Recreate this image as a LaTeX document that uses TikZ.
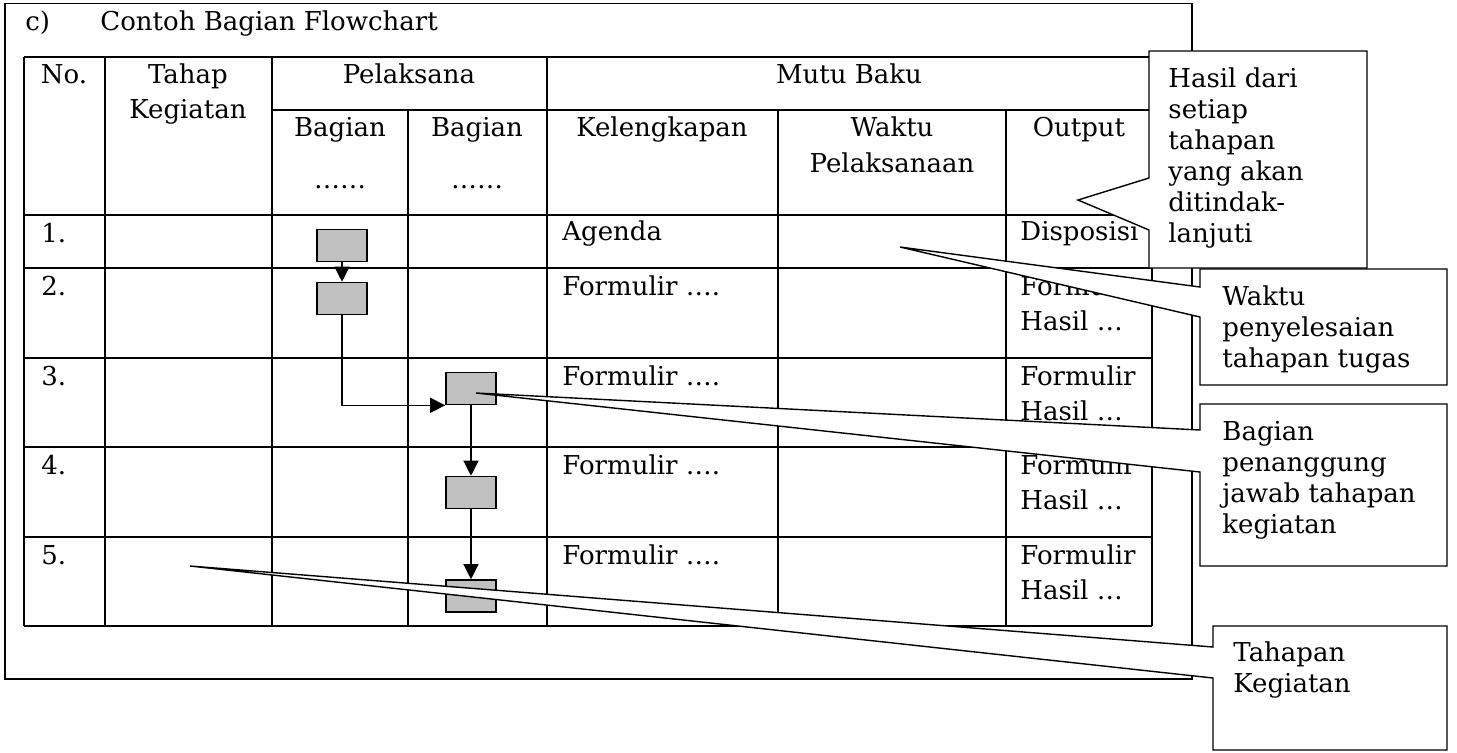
\documentclass[tikz,border=0pt]{standalone}
\usepackage{fontspec}
\setmainfont{DejaVu Serif}
\usetikzlibrary{arrows.meta}
\definecolor{boxgray}{RGB}{192,192,192}
\newcommand\tabfont{\fontsize{13}{17.5}\selectfont}
\newcommand\notefont{\fontsize{13}{15.5}\selectfont}

\begin{document}
\begin{tikzpicture}
	[x=0.5pt, y=-0.5pt, >={Triangle[length=7.5pt,width=7.5pt]},
	every node/.style={font=\tabfont, inner sep=0pt},
	txt/.style={anchor=base west},
	head/.style={anchor=base},
	grid/.style={line width=0.6pt},
	flow/.style={draw, line width=0.8pt, fill=boxgray, minimum width=25pt, minimum height=16pt},
	link/.style={->, line width=0.65pt},
	callout/.style={draw, fill=white, line width=0.7pt, line join=miter},
	note/.style={anchor=base west, align=left, font=\notefont}]
	\useasboundingbox (0,0) rectangle (1457,752);
	\draw[grid] (5,3.5) rectangle (1192,679);
	\node[txt] (lbl) at (25,30) {c)};
	\node[txt] (title) at (100,30) {Contoh Bagian Flowchart};

	\foreach \y in {57,215,268,358,447,537,626} \draw[grid] (24,\y) -- (1152,\y);
	\draw[grid] (272,110) -- (1152,110);
	\foreach \x in {24,105,272,547,1152} \draw[grid] (\x,57) -- (\x,626);
	\foreach \x in {408,778,1006} \draw[grid] (\x,110) -- (\x,626);

	\node[head] (no) at (64,83) {No.};
	\node[head] (tahap) at (188,83) {Tahap};
	\node[head] (tahap2) at (188,118) {Kegiatan};
	\node[head] (pelaksana) at (409,83) {Pelaksana};
	\node[head] (mutu) at (849,83) {Mutu Baku};
	\node[head] (bagA) at (340,136) {Bagian};
	\node[head] (bagAdots) at (340,188) {\ldots\ldots};
	\node[head] (bagB) at (477,136) {Bagian};
	\node[head] (bagBdots) at (477,188) {\ldots\ldots};
	\node[head] (lengkap) at (662,136) {Kelengkapan};
	\node[head] (waktu) at (892,136) {Waktu};
	\node[head] (waktu2) at (892,172) {Pelaksanaan};
	\node[head] (output) at (1079,136) {Output};

	\foreach \n/\y in {1/242,2/295,3/385,4/474,5/564} \node[txt] (no\n) at (41,\y) {\n.};
	\node[txt] (kl1) at (562,240) {Agenda};
	\node[txt] (out1) at (1020,240) {Disposisi};
	\foreach \n/\y in {2/295,3/385,4/474,5/564} {
		\node[txt] (kl\n) at (562,\y) {Formulir \ldots.};
		\node[txt] (out\n) at (1020,\y) {Formulir};
		\node[txt] (hs\n) at (1020,\y+35) {Hasil \ldots};
	}

	\node[flow] (b1) at (342,245.5) {};
	\node[flow] (b2) at (342,298.5) {};
	\node[flow] (b3) at (471,388.5) {};
	\node[flow] (b4) at (471,492.5) {};
	\node[flow] (b5) at (471,596) {};

	\coordinate (tipHasil) at (1078,200);
	\coordinate (tipWaktu) at (900,247);
	\coordinate (tipBagian) at (476,393);
	\coordinate (tipTahap) at (190,566);
	\draw[callout] (1149,178) -- (1149,51) -- (1367,51) -- (1367,268) -- (1149,268) -- (1149,230) -- (tipHasil) -- cycle;
	\draw[callout] (1200,287) -- (1200,269) -- (1447,269) -- (1447,385) -- (1200,385) -- (1200,317) -- (tipWaktu) -- cycle;
	\draw[callout] (1200,430) -- (1200,404) -- (1447,404) -- (1447,566) -- (1200,566) -- (1200,472) -- (tipBagian) -- cycle;
	\draw[callout] (1213,647) -- (1213,626) -- (1447,626) -- (1447,750) -- (1213,750) -- (1213,678) -- (tipTahap) -- cycle;
	\node[note] (hasil) at (1168,242) {Hasil dari\\setiap\\tahapan\\yang akan\\ditindak-\\lanjuti};
	\node[note] (selesai) at (1222,367) {Waktu\\penyelesaian\\tahapan tugas};
	\node[note] (jawab) at (1222,533) {Bagian\\penanggung\\jawab tahapan\\kegiatan};
	\node[note] (kegiatan) at (1233,692) {Tahapan\\Kegiatan};

	\path[link] (b1) edge (b2)
		(b3) edge (b4)
		(b4) edge (b5);
	\draw[link] (b2) |- (b3.south west);
\end{tikzpicture}
\end{document}
